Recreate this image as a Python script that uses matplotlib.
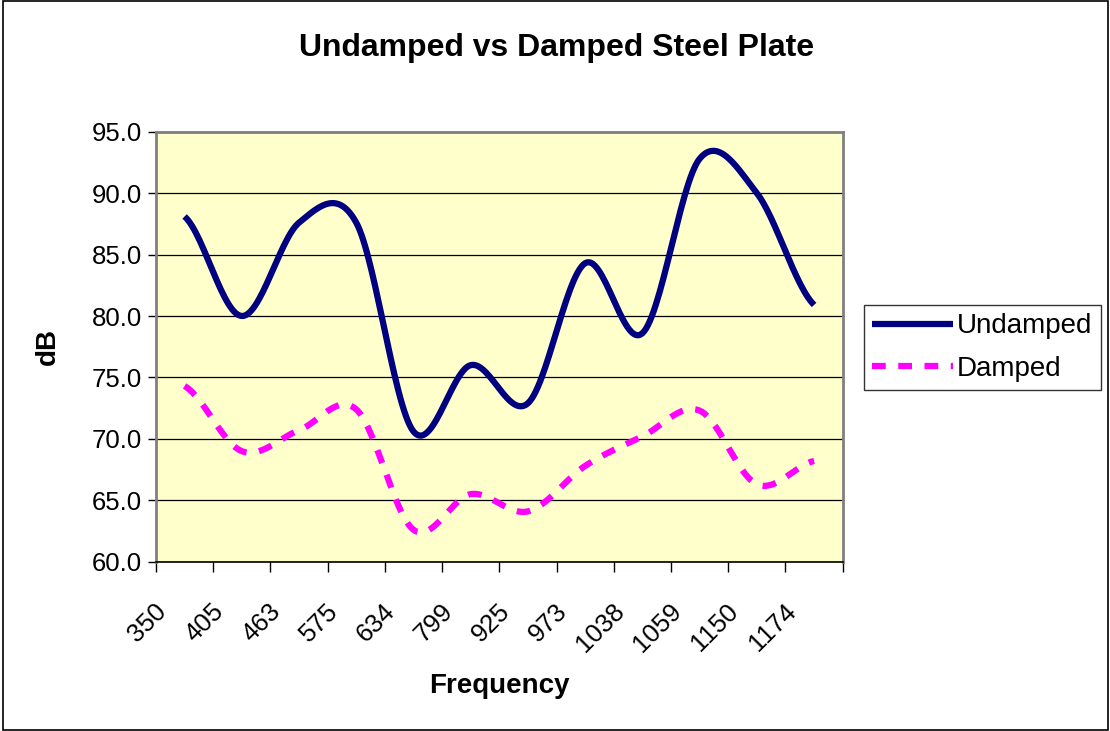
import numpy as np
import matplotlib.pyplot as plt
import matplotlib.transforms as mtransforms
from matplotlib.patches import Rectangle

plt.rcParams['font.family'] = ['Liberation Sans', 'DejaVu Sans']

# Data
frequency = ["350", "405", "463", "575", "634", "799", "925", "973", "1038", "1059", "1150", "1174"]
undamped = [88.1, 80.0, 87.6, 87.6, 70.6, 76.0, 72.9, 84.3, 78.6, 92.8, 90.0, 80.9]
damped = [74.3, 69.0, 70.7, 72.4, 62.6, 65.5, 64.1, 67.8, 70.2, 72.3, 66.3, 68.2]


def smooth(values, steps=30):
    # Excel-style smoothed line (Bezier with 1/6 control points)
    y = np.asarray(values, dtype=float)
    n = len(y)
    xs, ys = [], []
    for i in range(n - 1):
        p0 = y[i - 1] if i > 0 else y[i]
        p3 = y[i + 2] if i + 2 < n else y[i + 1]
        c1 = y[i] + (y[i + 1] - p0) / 6
        c2 = y[i + 1] - (p3 - y[i]) / 6
        t = np.linspace(0, 1, steps, endpoint=(i == n - 2))
        b = ((1 - t) ** 3 * y[i] + 3 * (1 - t) ** 2 * t * c1
             + 3 * (1 - t) * t ** 2 * c2 + t ** 3 * y[i + 1])
        xs.append(i + t)
        ys.append(b)
    return np.concatenate(xs), np.concatenate(ys)


fig = plt.figure(figsize=(11.1, 7.31), dpi=100)
fig.patches.append(Rectangle((0.003, 0.002), 0.995, 0.996, transform=fig.transFigure,
                             fill=False, edgecolor="black", linewidth=1.2))

ax = fig.add_axes([0.1405, 0.2316, 0.6187, 0.5882])
ax.set_facecolor("#FFFFCC")

xu, yu = smooth(undamped)
xd, yd = smooth(damped)
ax.plot(xu, yu, color="#000080", linewidth=4.5, label="Undamped", solid_capstyle="butt")
ax.plot(xd, yd, color="#FF00FF", linewidth=4.5, linestyle=(0, (2.2, 2.0)),
        label="Damped", dash_capstyle="butt")

ax.set_xlim(-0.5, len(frequency) - 0.5)
ax.set_ylim(60, 95)
ax.set_yticks(np.arange(60, 95.1, 5))
ax.set_yticklabels([f"{v:.1f}" for v in np.arange(60, 95.1, 5)], fontsize=18.5)
ax.yaxis.grid(True, color="black", linewidth=0.9)
ax.set_axisbelow(True)

ax.set_xticks(np.arange(-0.5, len(frequency), 1.0))
ax.set_xticklabels([])
ax.set_xticks(np.arange(len(frequency)), minor=True)
ax.set_xticklabels(frequency, minor=True, rotation=45, ha="right", va="center",
                   rotation_mode="anchor", fontsize=18.5)
ax.tick_params(axis="x", which="major", length=7, width=1, color="black", direction="out")
ax.tick_params(axis="x", which="minor", length=0, pad=33)
ax.tick_params(axis="y", length=6, width=1, direction="out", pad=4)
shift = mtransforms.ScaledTranslation(-0.22, 0, fig.dpi_scale_trans)
for lab in ax.get_xticklabels(minor=True):
    lab.set_transform(lab.get_transform() + shift)

for side in ["left", "right", "top"]:
    ax.spines[side].set_color("#808080")
    ax.spines[side].set_linewidth(2)
ax.spines["bottom"].set_color("black")
ax.spines["bottom"].set_linewidth(1.2)

fig.text(557 / 1110, 1 - 56 / 731, "Undamped vs Damped Steel Plate", fontsize=23,
         fontweight="bold", ha="center", va="baseline")
ax.set_xlabel("Frequency", fontsize=20, fontweight="bold")
ax.xaxis.set_label_coords(0.5, -0.26)
ax.set_ylabel("dB", fontsize=20, fontweight="bold")
ax.yaxis.set_label_coords(-0.138, 0.5)

leg = ax.legend(loc="upper left", bbox_to_anchor=(864 / 1110, 1 - 305 / 731),
                bbox_transform=fig.transFigure, fontsize=20, frameon=True,
                fancybox=False, edgecolor="black", handlelength=2.9, borderpad=0.3,
                labelspacing=0.6, handletextpad=0.15, borderaxespad=0)
leg.get_frame().set_linewidth(1.0)

fig.savefig("out.png", dpi=100)
